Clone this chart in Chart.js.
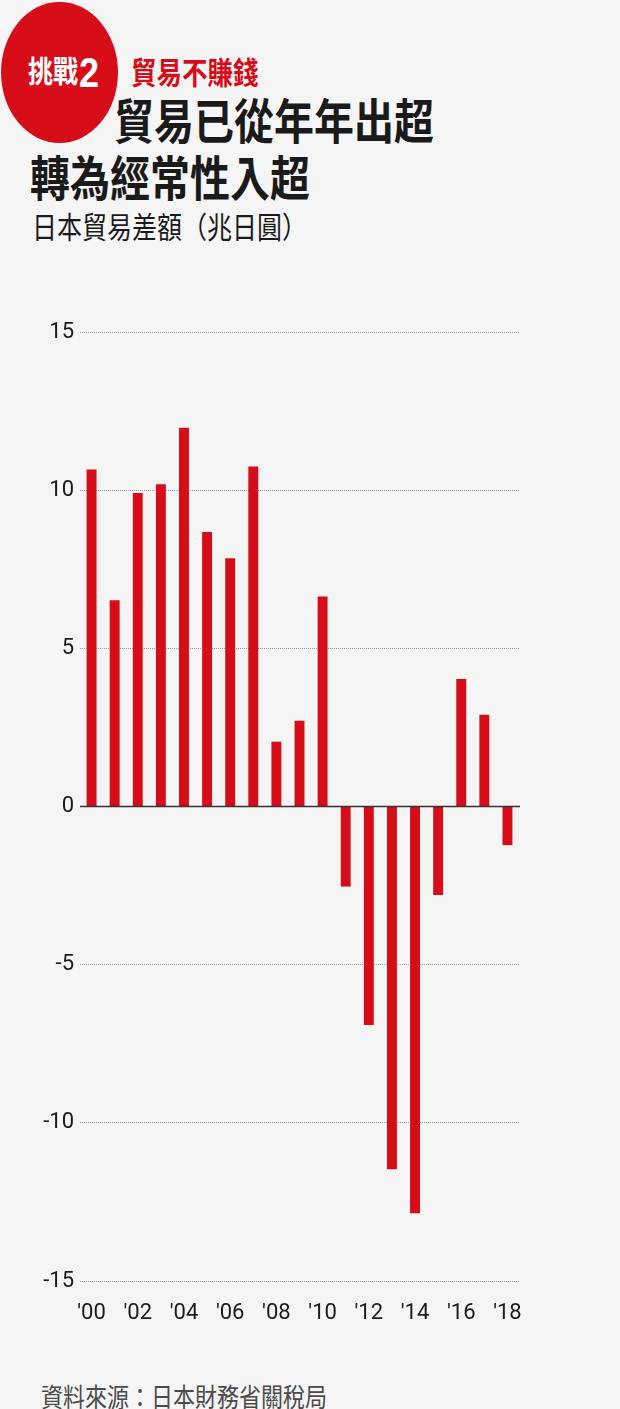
<!DOCTYPE html>
<html lang="zh-Hant">
<head>
<meta charset="utf-8">
<title>日本貿易差額</title>
<script src="https://cdn.jsdelivr.net/npm/chart.js@4.4.1/dist/chart.umd.min.js"></script>
<style>
    html, body {
        margin: 0;
        padding: 0;
        width: 620px;
        height: 1409px;
        background: #f5f5f5;
        overflow: hidden;
        font-family: "Noto Sans CJK TC", "Noto Sans", sans-serif;
    }
    .txt {
        position: absolute;
        line-height: 1;
        white-space: nowrap;
        transform: scaleY(1.2);
        transform-origin: left top;
    }
    #badge {
        position: absolute;
        left: 1px;
        top: 2px;
        width: 117px;
        height: 141px;
        border-radius: 50%;
        background: #d70c19;
    }
    #badge-text { left: 28px; top: 54px; font-size: 25px; font-weight: 700; color: #fff; }
    #badge-num { left: 79px; top: 51px; font-size: 36px; font-weight: 700; color: #fff;
        font-family: "Liberation Sans", Arial, sans-serif; }
    #kicker { left: 131px; top: 55px; font-size: 25.5px; font-weight: 700; color: #d70c19; }
    #title1 { left: 114px; top: 95px; font-size: 40px; font-weight: 700; color: #1a1a1a; }
    #title2 { left: 30px; top: 152px; font-size: 40px; font-weight: 700; color: #1a1a1a; }
    #subtitle { left: 32px; top: 210px; font-size: 25px; color: #1a1a1a; }
    #source { left: 41px; top: 1382px; font-size: 22px; color: #4a4a4a; }
    #chart-box {
        position: absolute;
        left: 0;
        top: 317px;
        width: 530px;
        height: 1033px;
    }
</style>
</head>
<body>
<div id="badge"></div>
<div class="txt" id="badge-text">挑戰</div>
<div class="txt" id="badge-num">2</div>
<div class="txt" id="kicker">貿易不賺錢</div>
<div class="txt" id="title1">貿易已從年年出超</div>
<div class="txt" id="title2">轉為經常性入超</div>
<div class="txt" id="subtitle">日本貿易差額（兆日圓）</div>
<div id="chart-box"><canvas id="graficoBalanza"></canvas></div>
<div class="txt" id="source">資料來源：日本財務省關稅局</div>

<script>
const years = ["'00", "'01", "'02", "'03", "'04", "'05", "'06", "'07", "'08", "'09",
    "'10", "'11", "'12", "'13", "'14", "'15", "'16", "'17", "'18"];

// 兆日圓
const balance = [10.65, 6.52, 9.91, 10.19, 11.97, 8.68, 7.85, 10.75, 2.05, 2.71,
    6.64, -2.53, -6.91, -11.47, -12.86, -2.80, 4.03, 2.90, -1.22];

const yTicks = [15, 10, 5, 0, -5, -10, -15];

const tickFont = "Roboto, 'Noto Sans', sans-serif";

// solid line at zero, drawn over the bars
const zeroLine = {
    id: 'zeroLine',
    afterDatasetsDraw(chart) {
        const { ctx, chartArea, scales } = chart;
        const y = scales.y.getPixelForValue(0);
        ctx.save();
        ctx.strokeStyle = '#333';
        ctx.lineWidth = 1.5;
        ctx.beginPath();
        ctx.moveTo(chartArea.left, y);
        ctx.lineTo(chartArea.right + 1, y);
        ctx.stroke();
        ctx.restore();
    }
};

const ctx = document.getElementById('graficoBalanza').getContext('2d');
const grafico = new Chart(ctx, {
    type: 'bar',
    data: {
        labels: years,
        datasets: [{
            data: balance,
            backgroundColor: '#d70c19',
            borderWidth: 0,
            categoryPercentage: 1,
            barPercentage: 0.43
        }]
    },
    options: {
        responsive: true,
        maintainAspectRatio: false,
        animation: false,
        plugins: {
            legend: { display: false },
            tooltip: { enabled: false }
        },
        layout: {
            padding: { top: 15, right: 11, bottom: 0, left: 0 }
        },
        scales: {
            x: {
                grid: { display: false },
                border: { display: false },
                ticks: {
                    autoSkip: false,
                    maxRotation: 0,
                    padding: 11,
                    color: '#1a1a1a',
                    font: { size: 22, family: tickFont },
                    callback: (value, index) => index % 2 === 0 ? years[index] : ''
                },
                afterFit: (scale) => {
                    scale.height = 69;
                    scale.paddingLeft = 0;
                    scale.paddingRight = 0;
                }
            },
            y: {
                min: yTicks[yTicks.length - 1],
                max: yTicks[0],
                afterBuildTicks: (scale) => {
                    scale.ticks = yTicks.map(v => ({ value: v }));
                },
                grid: {
                    drawTicks: false,
                    lineWidth: 1,
                    color: (c) => c.tick && c.tick.value === 0 ? 'rgba(0,0,0,0)' : '#9b9b9b'
                },
                border: { display: false, dash: [1, 1] },
                ticks: {
                    padding: 6,
                    color: '#1a1a1a',
                    font: { size: 22, family: tickFont },
                    callback: (value) => String(value)
                },
                afterFit: (scale) => {
                    scale.width = 80;
                    scale.paddingTop = 0;
                    scale.paddingBottom = 0;
                }
            }
        }
    },
    plugins: [zeroLine]
});
</script>
</body>
</html>
